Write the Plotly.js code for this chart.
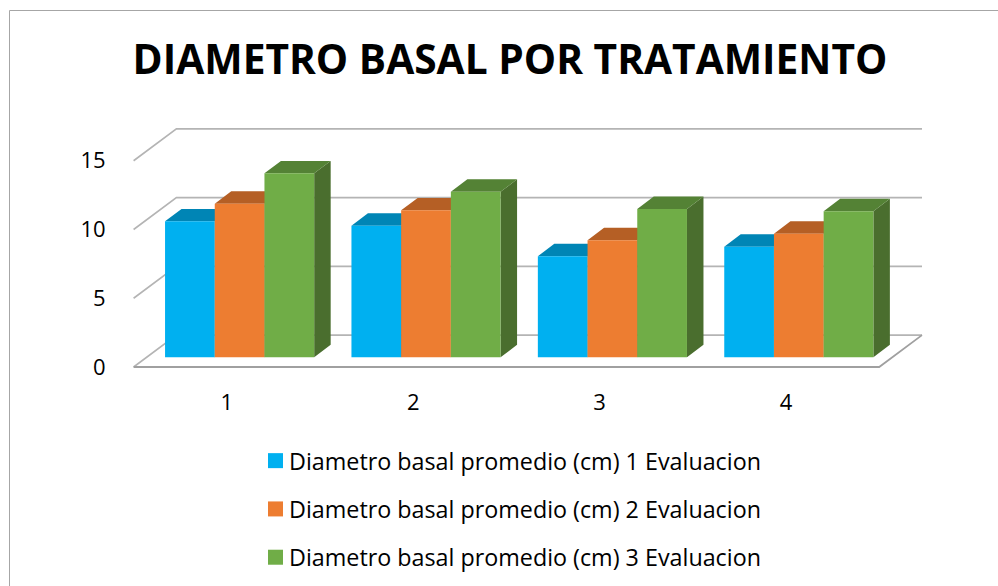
<!DOCTYPE html>
<html><head><meta charset="utf-8">
<script src="https://cdn.plot.ly/plotly-3.0.1.min.js"></script>
<style>html,body{margin:0;padding:0;background:#fff;overflow:hidden}#c{width:998px;height:586px}</style>
</head><body><div id="c"></div>
<script>
const categories = [1, 2, 3, 4];
const tickValues = [0, 5, 10, 15];
const seriesNames = [
  "Diametro basal promedio (cm) 1 Evaluacion",
  "Diametro basal promedio (cm) 2 Evaluacion",
  "Diametro basal promedio (cm) 3 Evaluacion"
];
const evaluacion1 = [9.89, 9.57, 7.35, 8.04];
const evaluacion2 = [11.17, 10.69, 8.51, 8.99];
const evaluacion3 = [13.38, 12.04, 10.79, 10.62];
const seriesValues = [evaluacion1, evaluacion2, evaluacion3];
const frontColors = ["#00B0F0", "#ED7D31", "#70AD47"];
const topColors = ["#0085B5", "#B55F25", "#548235"];
const sideColors = ["#00709A", "#9A501F", "#4A6E2E"];

// 3D projection, in axis units
const wallDX = 0.2296, wallDY = 2.32;   // floor depth
const barDX = 0.0885, barDY = 0.905;    // bar depth
const barBase = 0.705, groupShift = 0.0687, barW = 0.2667;

const L = 124, R = 62, T = 125, B = 215, W = 998, H = 586;
const xRange = [0.4485, 4.8047], yRange = [-0.2909, 17.6];
const px = v => (v - L) / (W - L - R), py = v => 1 - (v - T) / (H - T - B);

const traces = [];
// walls and floor
const wx = [], wy = [];
tickValues.forEach(v => {
  wx.push(0.5, 0.5 + wallDX, 4.5 + wallDX, null);
  wy.push(v, v + wallDY, v + wallDY, null);
});
traces.push({x: wx, y: wy, mode: 'lines', line: {color: '#B4B4B4', width: 1.6}, hoverinfo: 'skip', showlegend: false});
traces.push({x: [0.5, 4.5, 4.5 + wallDX], y: [0, 0, wallDY], mode: 'lines', line: {color: '#A0A0A0', width: 1.8}, hoverinfo: 'skip', showlegend: false});

// top and side faces
seriesValues.forEach((vals, s) => {
  const sx = [], sy = [], tx = [], ty = [];
  vals.forEach((v, i) => {
    const x0 = categories[i] + groupShift + (s - 1.5) * barW, x1 = x0 + barW, y1 = barBase + v;
    tx.push(x0, x0 + barDX, x1 + barDX, x1, x0, null);
    ty.push(y1, y1 + barDY, y1 + barDY, y1, y1, null);
    sx.push(x1, x1 + barDX, x1 + barDX, x1, x1, null);
    sy.push(barBase, barBase + barDY, y1 + barDY, y1, barBase, null);
  });
  traces.push({x: sx, y: sy, mode: 'lines', fill: 'toself', fillcolor: sideColors[s], line: {width: 0}, hoverinfo: 'skip', showlegend: false});
  traces.push({x: tx, y: ty, mode: 'lines', fill: 'toself', fillcolor: topColors[s], line: {width: 0}, hoverinfo: 'skip', showlegend: false});
});

// front faces, on an overlay so they sit above the faces behind
seriesValues.forEach((vals, s) => {
  traces.push({type: 'bar', x: categories.map(c => c + groupShift), y: vals, base: barBase,
    name: seriesNames[s], marker: {color: frontColors[s], line: {width: 0}},
    xaxis: 'x2', yaxis: 'y2', showlegend: false});
});
// legend keys
seriesNames.forEach((n, s) => {
  traces.push({x: [null], y: [null], mode: 'markers', name: n, legendgroup: 'g' + s,
    marker: {symbol: 'square', size: 15, color: frontColors[s]}});
});

const font = {family: '"Open Sans", sans-serif', color: '#000', size: 22};
const legendFont = {family: '"Open Sans", sans-serif', color: '#000', size: 23.3};
const layout = {
  width: W, height: H, paper_bgcolor: '#fff', plot_bgcolor: 'rgba(0,0,0,0)',
  margin: {l: L, r: R, t: T, b: B, pad: 0, autoexpand: false},
  font: font,
  title: {text: 'DIAMETRO BASAL POR TRATAMIENTO', xref: 'paper', x: (510 - L) / (W - L - R), xanchor: 'center',
    yref: 'container', y: 1 - 60 / H, yanchor: 'middle',
    font: {family: '"Open Sans", sans-serif', size: 40.7, color: '#000', weight: 700}},
  barmode: 'group', bargap: 0.2, bargroupgap: 0,
  xaxis: {range: xRange, tickmode: 'array', tickvals: categories, ticktext: categories.map(String),
    showgrid: false, zeroline: false, showline: false, ticks: 'outside', ticklen: 12, tickcolor: 'rgba(0,0,0,0)', tickfont: font},
  yaxis: {range: yRange, tickmode: 'array', tickvals: tickValues, ticktext: tickValues.map(String),
    showgrid: false, zeroline: false, showline: false, ticks: 'outside', ticklen: 13, tickcolor: 'rgba(0,0,0,0)', tickfont: font},
  xaxis2: {range: xRange, overlaying: 'x', visible: false},
  yaxis2: {range: yRange, overlaying: 'y', visible: false},
  legend: {xref: 'container', yref: 'container', x: 249 / W, y: 1 - 439 / H, xanchor: 'left', yanchor: 'top',
    bgcolor: 'rgba(0,0,0,0)', font: legendFont, tracegroupgap: 15, traceorder: 'grouped'},
  shapes: [{type: 'rect', xref: 'paper', yref: 'paper', x0: px(9.5), x1: px(1200), y0: py(10.5), y1: py(800),
    line: {color: '#A6A6A6', width: 1}, fillcolor: 'rgba(0,0,0,0)', layer: 'below'}],
  showlegend: true
};
Plotly.newPlot('c', traces, layout, {displayModeBar: false, staticPlot: true}).then(gd => {
  gd.querySelectorAll('.legendsymbols').forEach(g => g.setAttribute('transform', 'translate(6.5,0)'));
});
</script></body></html>
